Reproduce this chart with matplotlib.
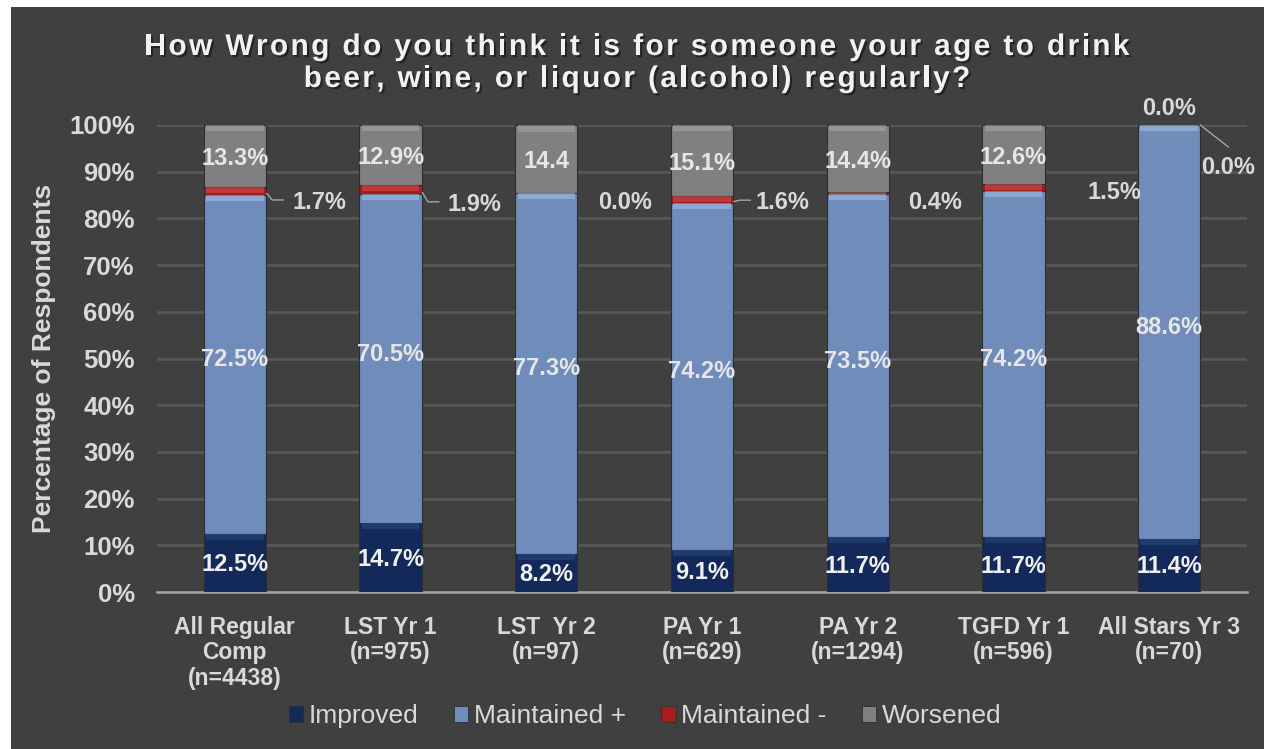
import numpy as np
import matplotlib
matplotlib.use("Agg")
import matplotlib.pyplot as plt
import matplotlib.patheffects as pe
from matplotlib.patches import Rectangle, Patch
from matplotlib.font_manager import FontProperties, findfont, get_font

plt.rcParams['font.family'] = ['Liberation Sans', 'DejaVu Sans']

categories = ['All Regular\nComp\n(n=4438)', 'LST Yr 1\n(n=975)', 'LST  Yr 2\n(n=97)',
              'PA Yr 1\n(n=629)', 'PA Yr 2\n(n=1294)', 'TGFD Yr 1\n(n=596)',
              'All Stars Yr 3\n(n=70)']
improved = [12.5, 14.7, 8.2, 9.1, 11.7, 11.7, 11.4]
maintained_pos = [72.5, 70.5, 77.3, 74.2, 73.5, 74.2, 88.6]
maintained_neg = [1.7, 1.9, 0.0, 1.6, 0.4, 1.5, 0.0]
worsened = [13.3, 12.9, 14.4, 15.1, 14.4, 12.6, 0.0]
worsened_text = ['13.3%', '12.9%', '14.4', '15.1%', '14.4%', '12.6%', '0.0%']
series_names = ['Improved', 'Maintained +', 'Maintained -', 'Worsened']

title_lines = ['How Wrong do you think it is for someone your age to drink',
               'beer, wine, or liquor (alcohol) regularly?']

# layout for the small "Maintained -" labels (offsets from the red segment / bar edge)
neg_dy = [-2.5, -3.2, -2.2, -0.8, -2.1, -1.0, None]
neg_dx_px = [27, 26, 21, 22, 19, 43, 1]
neg_leader = [True, True, False, True, False, False, True]

colors = ['#13295a', '#6f8cba', '#a81c1c', '#808080']
tops = ['#2a4a8a', '#a9c4ea', '#d85050', '#a8a8a8']
BG = '#404040'
TXT = '#d9d9d9'

W, H, DPI = 1264, 749, 100
fig = plt.figure(figsize=(W / DPI, H / DPI), dpi=DPI, facecolor='white')
fig.patches.append(Rectangle((11 / W, 0), 1 - 11 / W, (H - 7) / H, transform=fig.transFigure,
                             facecolor=BG, edgecolor='none', zorder=-10))

ax = fig.add_axes([157 / W, 1 - 592 / H, (1247 - 157) / W, (592 - 125) / H])
ax.set_facecolor(BG)
ax.set_xlim(-0.5, len(categories) - 0.5)
ax.set_ylim(0, 100)
px_x = (len(categories)) / (1247 - 157)   # data units per pixel, x

x = np.arange(len(categories))
bw = 0.4
stack = [improved, maintained_pos, maintained_neg, worsened]
bottom = np.zeros(len(categories))
for vals, c, tc in zip(stack, colors, tops):
    vals = np.array(vals)
    ax.bar(x, vals, bw, bottom=bottom, color=c, edgecolor='#2e2e2e', linewidth=0.8, zorder=3)
    hl = np.minimum(vals, 1.3)
    ax.bar(x, hl * (vals > 0), bw * 0.92, bottom=bottom + vals - hl, color=tc, alpha=0.55,
           linewidth=0, zorder=4)
    bottom += vals

# data labels
for i in range(len(categories)):
    b0 = improved[i]
    ax.text(i, b0 / 2 - 0.3, f'{improved[i]:.1f}%', ha='center', va='center', fontsize=17,
            fontweight='bold', color='#f0f0f0', zorder=5)
    b1 = b0 + maintained_pos[i]
    ax.text(i, b0 + maintained_pos[i] / 2 + 1, f'{maintained_pos[i]:.1f}%', ha='center',
            va='center', fontsize=17, fontweight='bold', color='#e6e6e6', zorder=5)
    b2 = b1 + maintained_neg[i]
    xr = i + bw / 2
    if i < len(categories) - 1:
        ax.text(i, b2 + worsened[i] / 2 - 0.6, worsened_text[i], ha='center', va='center',
                fontsize=17, fontweight='bold', color='#e6e6e6', zorder=5)
        ly = (b1 + b2) / 2 + neg_dy[i]
        ax.text(xr + neg_dx_px[i] * px_x, ly, f'{maintained_neg[i]:.1f}%', ha='left',
                va='center', fontsize=17, fontweight='bold', color=TXT, zorder=5)
        if neg_leader[i]:
            ax.plot([xr + 0.005, xr + 0.04, xr + 0.11], [b1 + 0.3, ly + 0.6, ly + 0.6],
                    color='#a6a6a6', lw=1, zorder=5, clip_on=False)
    else:
        top = b2 + worsened[i]
        ax.text(i, top + 3.6, worsened_text[i], ha='center', va='center', fontsize=17,
                fontweight='bold', color=TXT, zorder=5, clip_on=False)
        ax.plot([xr, xr + 0.18], [top, top - 4.7], color='#a6a6a6', lw=1, zorder=5,
                clip_on=False)
        ax.text(xr + neg_dx_px[i] * px_x, top - 9.2, f'{maintained_neg[i]:.1f}%', ha='left',
                va='center', fontsize=17, fontweight='bold', color=TXT, zorder=5)

# axes styling
ax.set_yticks(np.arange(0, 101, 10))
ax.set_yticklabels([f'{v}%' for v in range(0, 101, 10)])
ax.set_xticks(x)
ax.set_xticklabels(categories, linespacing=1.15)
ax.tick_params(axis='y', length=0, pad=16, labelsize=18.5, labelcolor=TXT)
ax.tick_params(axis='x', length=0, pad=17, labelsize=16.5, labelcolor=TXT)
for lab in ax.get_xticklabels() + ax.get_yticklabels():
    lab.set_fontweight('bold')
ax.yaxis.grid(True, color='#575757', lw=2, zorder=0)
ax.set_axisbelow(True)
for s in ['top', 'right', 'left']:
    ax.spines[s].set_visible(False)
ax.spines['bottom'].set_color('#a6a6a6')
ax.spines['bottom'].set_linewidth(1.8)
ax.set_ylabel('Percentage of Respondents', fontsize=19, fontweight='bold', color=TXT)
ax.yaxis.set_label_coords(-(157 - 56) / (1247 - 157), 0.5)

# legend
handles = [Patch(facecolor=c, edgecolor='#2e2e2e', lw=0.6) for c in colors]
fig.legend(handles, series_names, loc='center', bbox_to_anchor=(645 / W, 1 - 716 / H),
           ncol=4, frameon=False, fontsize=19, labelcolor=TXT, handlelength=0.55,
           handleheight=0.55, handletextpad=0.2, columnspacing=1.35)

# title with letter spacing
size = 21.5
prop = FontProperties(family='Liberation Sans', weight='bold', size=size)
font = get_font(findfont(prop))
font.set_size(size, DPI)

def advances(s):
    out = []
    for ch in s:
        g = font.load_char(ord(ch))
        out.append(g.linearHoriAdvance / 65536)
    return out

adv1 = advances(title_lines[0])
spacing = (985 - sum(adv1)) / (len(title_lines[0]) - 1)
shadow = [pe.withSimplePatchShadow(offset=(1.5, -1.5), shadow_rgbFace='black', alpha=0.45)]
for line, base in zip(title_lines, [55, 87]):
    adv = advances(line)
    total = sum(adv) + spacing * (len(line) - 1)
    px = 637 - total / 2
    for ch, a in zip(line, adv):
        if ch != ' ':
            fig.text(px / W, 1 - base / H, ch, ha='left', va='baseline', fontsize=size,
                     fontweight='bold', color='#f2f2f2', path_effects=shadow)
        px += a + spacing

fig.savefig('out.png', dpi=DPI, facecolor=fig.get_facecolor())
